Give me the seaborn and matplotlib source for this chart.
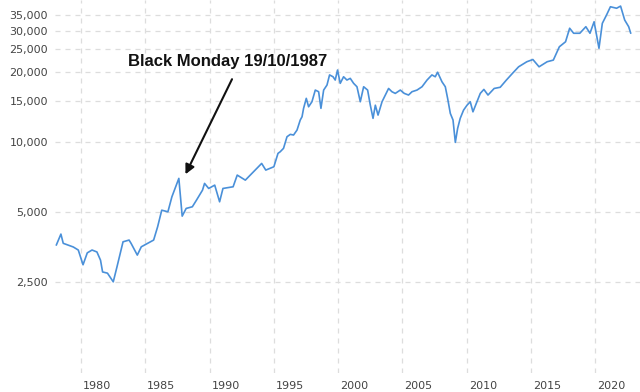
import numpy as np
import pandas as pd
import matplotlib
matplotlib.use('Agg')
import matplotlib.pyplot as plt
import seaborn as sns

# values (year as decimal, index level)
years = [1978.08, 1978.44, 1978.62, 1979.01, 1979.40, 1979.79, 1980.16, 1980.49, 1980.86, 1981.24,
         1981.52, 1981.68, 1982.06, 1982.25, 1982.51, 1982.80, 1983.27, 1983.74, 1983.90, 1984.38,
         1984.69, 1985.17, 1985.65, 1985.96, 1986.28, 1986.76, 1987.07, 1987.61, 1987.87, 1988.18,
         1988.66, 1988.98, 1989.45, 1989.61, 1989.93, 1990.40, 1990.78, 1991.04, 1991.83, 1992.15,
         1992.78, 1993.42, 1994.05, 1994.37, 1995.00, 1995.32,
         1995.49, 1995.75, 1996.02, 1996.28, 1996.53, 1996.80, 1997.05, 1997.19, 1997.31, 1997.52,
         1997.70, 1997.96, 1998.22, 1998.48, 1998.66, 1998.87, 1999.13, 1999.33, 1999.60, 1999.77,
         1999.95, 2000.16, 2000.42, 2000.68, 2000.94, 2001.20, 2001.46, 2001.72, 2001.98, 2002.29,
         2002.50, 2002.71, 2002.89, 2003.10, 2003.41, 2003.67, 2003.92, 2004.18, 2004.44, 2004.83,
         2005.14, 2005.47, 2005.74, 2006.13, 2006.52, 2006.91, 2007.29, 2007.55, 2007.73, 2008.07,
         2008.33, 2008.51, 2008.72, 2008.93, 2009.11, 2009.29, 2009.49, 2009.75, 2010.02, 2010.27,
         2010.48, 2010.79, 2011.05,
         2011.33, 2011.65, 2012.13, 2012.60,
         2013.08, 2013.56, 2014.03, 2014.67, 2015.14, 2015.62, 2016.25, 2016.73, 2017.20, 2017.68,
         2018.00, 2018.31, 2018.79, 2019.26, 2019.58, 2019.90, 2020.28, 2020.54, 2020.86, 2021.17,
         2021.65, 2021.96, 2022.28, 2022.59, 2022.75]
index = [3595, 4010, 3660, 3595, 3530, 3425, 2960, 3330, 3425, 3360,
         3097, 2757, 2724, 2627, 2500, 2900, 3715, 3780, 3655, 3257,
         3536, 3655, 3780, 4311, 5080, 5000, 5800, 6960, 4790, 5170,
         5255, 5610, 6195, 6622, 6300, 6510, 5520, 6300, 6405, 7190,
         6840, 7430, 8070, 7555, 7810, 8915,
         9057, 9370, 10510, 10760, 10690, 11230, 12400, 12810, 13920, 15370,
         14140, 14860, 16680, 16410, 13920, 16680, 17530, 19380, 19030, 18420,
         20340, 17830, 19030, 18420, 18730, 17830, 17240, 14860, 17240, 16680,
         14360, 12610, 14360, 13020, 14860, 15880, 16950, 16410, 16140, 16680,
         16140, 15880, 16410, 16680, 17240, 18420, 19380, 19030, 19900, 18110,
         17240, 15370, 13240, 12400, 9940, 11420, 12610, 13680, 14360, 14860,
         13450, 14860, 16140,
         16790, 15880, 16950, 17150,
         18420, 19700, 21000, 22080, 22570, 21000, 22080, 22440, 25610, 26900,
         30760, 29270, 29270, 31230, 29270, 32800, 25230, 32290, 34990, 38050,
         37490, 38300, 33360, 31230, 29270]

ytick_vals = [2500, 5000, 10000, 15000, 20000, 25000, 30000, 35000]
xtick_years = [1980, 1985, 1990, 1995, 2000, 2005, 2010, 2015, 2020]

note_text = 'Black Monday 19/10/1987'
note_tip = (1988.03, 7071)
note_tail = (1991.84, 19040)
note_pos = (1991.38, 22080)

df = pd.DataFrame({'year': years, 'index': index})

sns.set_style('white')
fig = plt.figure(figsize=(6.4, 3.92), dpi=100)
ax = fig.add_axes([55/640, 19/392, 585/640, 373/392])

sns.lineplot(data=df, x='year', y='index', ax=ax, color='#4a90d9', linewidth=1.2)

ax.set_yscale('log')
ax.set_ylim(1014, 40680)
ax.set_xlim(1977.98, 2023.47)

ax.set_yticks(ytick_vals)
ax.set_yticklabels([f'{v:,}' for v in ytick_vals])
ax.yaxis.set_minor_locator(matplotlib.ticker.NullLocator())
ax.set_xticks(xtick_years)
ax.set_xticklabels([str(y) for y in xtick_years], ha='left')

ax.grid(True, which='major', linestyle=(0, (4, 4)), color='#dddddd', linewidth=0.9)
ax.tick_params(axis='both', length=0, labelsize=8, labelcolor='#444444')
ax.tick_params(axis='y', pad=5)
ax.tick_params(axis='x', pad=6)
for lab in ax.get_xticklabels():
    lab.set_transform(lab.get_transform() + matplotlib.transforms.ScaledTranslation(2/100, 0, fig.dpi_scale_trans))
for s in ax.spines.values():
    s.set_visible(False)
ax.set_xlabel('')
ax.set_ylabel('')

ax.annotate('', xy=note_tip, xytext=note_tail,
            arrowprops=dict(arrowstyle='-|>', color='#111111', lw=1.5, mutation_scale=14))
ax.text(note_pos[0], note_pos[1], note_text, ha='center', va='center',
        fontsize=12, fontweight='bold', family='Liberation Sans', color='#111111')

fig.savefig('out.png', dpi=100)
